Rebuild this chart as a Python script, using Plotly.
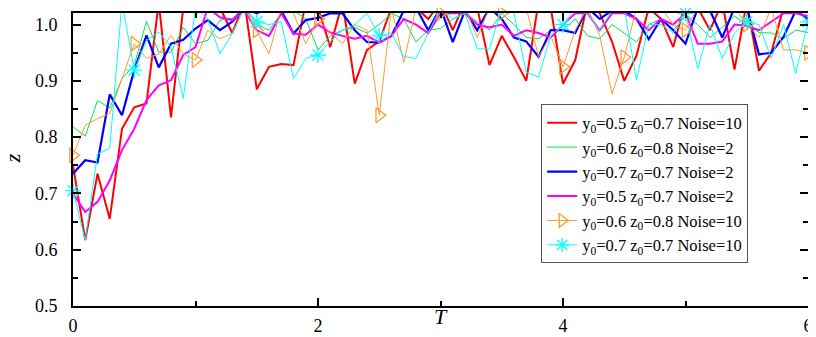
import numpy as np
import plotly.graph_objects as go

T = np.linspace(0, 6, 61)

red = [0.75, 0.617, 0.735, 0.655, 0.815, 0.853, 0.86, 1.04, 0.835, 1.03,
       1.035, 1.04, 1.03, 0.985, 1.04, 0.885, 0.925, 0.93, 0.928, 1.04,
       1.03, 0.96, 1.04, 0.895, 0.955, 0.97, 1.03, 1.04, 1.03, 1.01,
       1.04, 0.99, 1.04, 1.03, 0.928, 0.98, 0.942, 0.90, 1.04, 1.03,
       0.895, 0.937, 1.04, 1.02, 0.97, 0.90, 0.945, 1.03, 1.01, 0.96,
       1.04, 1.03, 0.99, 1.04, 0.92, 1.04, 0.918, 0.95, 1.03, 1.04, 1.03]

green = [0.818, 0.802, 0.865, 0.852, 0.904, 0.928, 1.006, 0.951, 0.951, 0.995,
         0.966, 0.972, 1.008, 1.011, 1.03, 1.0, 0.99, 1.02, 1.025, 1.01,
         0.955, 0.98, 0.99, 0.995, 0.985, 1.0, 1.02, 1.01, 0.969, 0.99,
         0.993, 1.01, 1.02, 1.005, 0.99, 1.02, 1.0, 0.977, 0.975, 0.99,
         0.99, 1.01, 0.98, 0.975, 1.0, 0.985, 0.969, 1.0, 1.01, 0.99,
         1.015, 1.0, 0.977, 0.995, 1.015, 1.0, 0.986, 0.985, 0.975, 0.99, 0.986]

blue = [0.735, 0.759, 0.755, 0.876, 0.839, 0.919, 0.981, 0.924, 0.966, 0.973,
        0.993, 1.008, 0.99, 1.005, 1.03, 1.02, 1.03, 1.025, 0.984, 1.008,
        1.012, 1.02, 1.02, 0.99, 0.969, 0.968, 0.98, 1.025, 1.03, 0.99,
        1.03, 0.969, 1.025, 0.99, 1.03, 1.01, 0.977, 0.97, 0.943, 0.99,
        0.99, 0.985, 1.03, 1.01, 1.025, 1.025, 1.01, 0.974, 1.01, 0.99,
        0.966, 1.03, 1.025, 0.977, 1.03, 1.03, 0.947, 0.95, 0.978, 1.025, 1.01]

magenta = [0.70, 0.667, 0.685, 0.723, 0.777, 0.815, 0.866, 0.892, 0.901, 0.946,
           0.96, 1.03, 1.013, 1.008, 1.025, 0.99, 0.98, 1.02, 0.984, 0.982,
           1.0, 0.986, 0.98, 0.975, 0.98, 0.968, 0.98, 1.01, 1.0, 0.985,
           1.02, 1.02, 1.02, 1.0, 0.995, 1.0, 0.98, 0.99, 0.985, 0.977,
           1.0, 1.02, 1.02, 0.99, 1.02, 1.02, 1.01, 0.99, 1.01, 1.0,
           1.02, 0.966, 0.966, 0.97, 1.0, 0.998, 0.99, 1.005, 1.02, 1.02, 1.015]

orange = [0.768, 0.821, 0.833, 0.842, 0.904, 0.966, 0.94, 0.948, 0.981, 0.948,
          0.937, 0.99, 0.975, 0.984, 1.03, 0.99, 0.948, 1.03, 1.02, 0.966,
          1.01, 0.985, 0.966, 1.0, 0.99, 0.839, 1.03, 0.933, 1.03, 1.03,
          1.02, 1.025, 1.03, 0.977, 1.03, 1.02, 1.025, 1.03, 0.943, 0.98,
          0.925, 0.99, 1.03, 0.98, 0.877, 0.942, 1.03, 1.02, 1.03, 1.0,
          0.99, 1.03, 1.03, 1.02, 1.03, 1.0, 0.977, 1.03, 0.955, 0.955, 0.95]

cyan = [0.705, 0.617, 0.77, 0.78, 1.04, 0.919, 0.972, 0.987, 0.96, 0.869,
        1.03, 1.01, 0.948, 0.984, 1.03, 1.005, 1.0, 1.005, 0.904, 0.94,
        0.946, 0.97, 0.99, 1.0, 1.02, 0.98, 0.985, 0.943, 0.94, 0.985,
        1.03, 1.01, 1.02, 0.957, 0.957, 1.03, 1.02, 0.915, 0.907, 0.98,
        1.0, 1.03, 1.02, 0.99, 1.025, 1.03, 0.901, 1.0, 1.0, 0.985,
        1.02, 0.922, 1.0, 0.94, 0.985, 1.005, 1.0, 0.94, 1.0, 0.913, 1.005]

names = [
    "y<sub>0</sub>=0.5 z<sub>0</sub>=0.7 Noise=10",
    "y<sub>0</sub>=0.6 z<sub>0</sub>=0.8 Noise=2",
    "y<sub>0</sub>=0.7 z<sub>0</sub>=0.7 Noise=2",
    "y<sub>0</sub>=0.5 z<sub>0</sub>=0.7 Noise=2",
    "y<sub>0</sub>=0.6 z<sub>0</sub>=0.8 Noise=10",
    "y<sub>0</sub>=0.7 z<sub>0</sub>=0.7 Noise=10",
]
x_ticks = [0, 2, 4, 6]
y_ticks = [0.5, 0.6, 0.7, 0.8, 0.9, 1.0]

C_RED = "#ff0000"
C_GREEN = "#00e64d"
C_BLUE = "#0000ff"
C_MAG = "#ff00ff"
C_ORA = "#ff9933"
C_CYA = "#00ffff"

fig = go.Figure()
for y, name, col, w in [(red, names[0], C_RED, 2),
                        (green, names[1], C_GREEN, 1),
                        (blue, names[2], C_BLUE, 2.2),
                        (magenta, names[3], C_MAG, 2)]:
    fig.add_trace(go.Scatter(x=T, y=y, mode="lines", name=name,
                             line=dict(color=col, width=w)))

for y, name, col, sym in [(orange, names[4], C_ORA, "triangle-right-open"),
                          (cyan, names[5], C_CYA, "asterisk-open")]:
    fig.add_trace(go.Scatter(x=T, y=y, mode="lines", showlegend=False,
                             line=dict(color=col, width=1)))
    fig.add_trace(go.Scatter(x=T[::5], y=np.array(y)[::5], mode="markers",
                             showlegend=False, cliponaxis=False,
                             marker=dict(symbol=sym, size=13, color=col,
                                         line=dict(color=col, width=1.3))))
    fig.add_trace(go.Scatter(x=[None], y=[None], mode="lines+markers", name=name,
                             line=dict(color=col, width=1),
                             marker=dict(symbol=sym, size=12, color=col,
                                         line=dict(color=col, width=1.3))))

tick_font = dict(family="Liberation Serif", size=18, color="black")
# the page body adds an 8px offset; the figure is sized to fill the rest of the window
fig.update_layout(
    width=808, height=329,
    margin=dict(l=65, r=8, t=5, b=31),
    paper_bgcolor="white", plot_bgcolor="white",
    showlegend=True,
    legend=dict(x=0.637, y=0.688, xanchor="left", yanchor="top",
                bgcolor="white", bordercolor="#555555", borderwidth=1,
                font=dict(family="Liberation Serif", size=16.5, color="black"),
                tracegroupgap=0, itemwidth=30),
    xaxis=dict(range=[0, 6], tickvals=x_ticks, ticktext=[str(v) for v in x_ticks],
               ticks="inside", ticklen=8, tickwidth=1.5, tickcolor="black",
               minor=dict(dtick=1, ticks="inside", ticklen=5, tickwidth=1.5, tickcolor="black"),
               showline=True, linecolor="black", linewidth=2, mirror="ticks",
               showgrid=False, zeroline=False, tickfont=tick_font,
               ticklabelstandoff=2, automargin=False),
    yaxis=dict(range=[0.5, 1.0206], tickvals=y_ticks, ticktext=["%.1f" % v for v in y_ticks],
               ticks="inside", ticklen=8, tickwidth=1.5, tickcolor="black",
               minor=dict(dtick=0.05, tick0=0.5, ticks="inside", ticklen=5, tickwidth=1.5, tickcolor="black"),
               showline=True, linecolor="black", linewidth=2, mirror="ticks",
               showgrid=False, zeroline=False, tickfont=tick_font,
               ticklabelstandoff=10, automargin=False),
    annotations=[
        dict(text="<i>T</i>", x=3, xref="x", y=-0.035, yref="paper",
             yanchor="middle", showarrow=False,
             font=dict(family="Liberation Serif", size=22, color="black")),
        dict(text="<i>z</i>", x=-61 / 735, xref="paper", y=0.504, yref="paper",
             xanchor="center", yanchor="middle", textangle=-90, showarrow=False,
             font=dict(family="Liberation Serif", size=22, color="black")),
    ],
)

fig.write_html("out.html")
